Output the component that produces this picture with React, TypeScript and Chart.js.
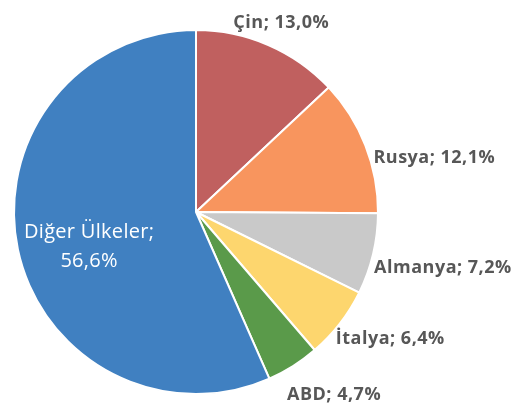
import React, { useEffect, useRef } from "react";
import { Chart, registerables } from "chart.js";

Chart.register(...registerables);

const categories = ["Çin", "Rusya", "Almanya", "İtalya", "ABD", "Diğer Ülkeler"];
const shares = [13.0, 12.1, 7.2, 6.4, 4.7, 56.6];
const colors = ["#C0605F", "#F8955E", "#C9C9C9", "#FDD66E", "#5A9A4A", "#4080C1"];

// label placement relative to the slice's outer edge at its middle angle
const labelPlacement = [
  { dx: 13, dy: -22, align: "center", inside: false },
  { dx: 8, dy: 12, align: "left", inside: false },
  { dx: 1, dy: 14, align: "left", inside: false },
  { dx: -4, dy: 15, align: "left", inside: false },
  { dx: -6, dy: 29, align: "left", inside: false },
  { dx: 0, dy: 12, align: "center", inside: true },
];

const fmt = (v: number) => v.toFixed(1).replace(".", ",") + "%";

const labelPlugin = {
  id: "sliceLabels",
  afterDatasetsDraw(chart: any) {
    const ctx = chart.ctx;
    const meta = chart.getDatasetMeta(0);
    meta.data.forEach((arc: any, i: number) => {
      const p = labelPlacement[i];
      const mid = (arc.startAngle + arc.endAngle) / 2;
      const r = p.inside ? arc.outerRadius * 0.6 : arc.outerRadius;
      const x = arc.x + Math.cos(mid) * r + p.dx;
      const y = arc.y + Math.sin(mid) * r + p.dy;
      ctx.save();
      ctx.textBaseline = "middle";
      ctx.textAlign = p.align;
      if (p.inside) {
        ctx.fillStyle = "#FFFFFF";
        ctx.font = "20px 'Open Sans'";
        ctx.letterSpacing = "0.3px";
        ctx.fillText(categories[i] + ";", x, y - 14);
        ctx.fillText(fmt(shares[i]), x, y + 15);
      } else {
        ctx.fillStyle = "#575757";
        ctx.font = "bold 18px 'Open Sans'";
        ctx.letterSpacing = "0.5px";
        ctx.fillText(categories[i] + "; " + fmt(shares[i]), x, y);
      }
      ctx.restore();
    });
  },
};

export default function App() {
  const ref = useRef<HTMLCanvasElement>(null);
  useEffect(() => {
    const chart = new Chart(ref.current!, {
      type: "pie",
      data: {
        labels: categories,
        datasets: [
          {
            data: shares,
            backgroundColor: colors,
            borderColor: "#FFFFFF",
            borderWidth: 2,
          },
        ],
      },
      options: {
        responsive: false,
        animation: false,
        radius: 182,
        layout: { padding: { left: 14, right: 146, top: 30, bottom: 14 } },
        plugins: {
          legend: { display: false },
          tooltip: { enabled: false },
        },
      },
      plugins: [labelPlugin],
    });
    return () => chart.destroy();
  }, []);
  return (
    <div style={{ position: "absolute", left: 0, top: 0, width: 524, height: 408, background: "#fff" }}>
      <canvas ref={ref} width={524} height={408} style={{ display: "block" }} />
    </div>
  );
}
